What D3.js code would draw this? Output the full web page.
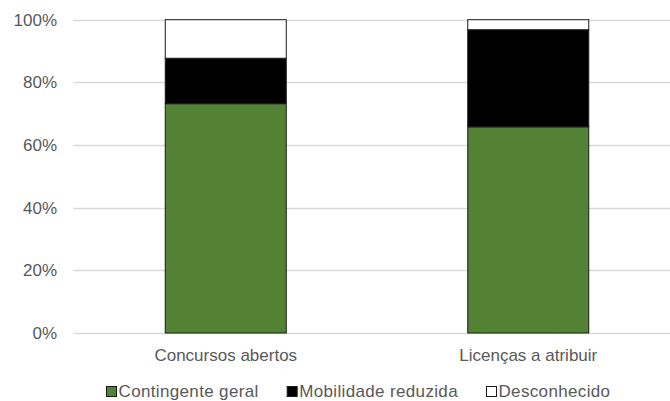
<!DOCTYPE html>
<html>
<head>
<meta charset="utf-8">
<script src="https://cdn.jsdelivr.net/npm/d3@7"></script>
<style>
  html, body { margin: 0; padding: 0; background: #fff; }
  svg { display: block; font-family: "Liberation Sans", Arial, sans-serif; }
</style>
</head>
<body>
<svg id="chart" width="670" height="401"></svg>
<script>
// Share of each group, per category (percent)
const categories = ["Concursos abertos", "Licenças a atribuir"];
const seriesNames = ["Contingente geral", "Mobilidade reduzida", "Desconhecido"];
const contingenteGeral = [73.2, 65.8];
const mobilidadeReduzida = [14.5, 31.0];
const desconhecido = [12.3, 3.2];
const yTicks = [0, 20, 40, 60, 80, 100];

const colors = ["#548235", "#000000", "#ffffff"];

const svg = d3.select("#chart");
const W = 670, H = 401;

const x = d3.scaleBand()
  .domain(categories)
  .range([74.5, 679.5])
  .paddingInner(0.6)
  .paddingOuter(0.3);

const y = d3.scaleLinear().domain([0, 100]).range([333, 19.7]);

// Gridlines
const gridG = svg.append("g");
gridG.selectAll("line")
  .data(yTicks)
  .join("line")
  .attr("x1", 73.5).attr("x2", W)
  .attr("y1", d => Math.round(y(d)) + 0.5)
  .attr("y2", d => Math.round(y(d)) + 0.5)
  .attr("stroke", "#d9d9d9")
  .attr("stroke-width", 1.3);

// Y axis labels
const yAxis = d3.axisLeft(y).tickValues(yTicks).tickFormat(d => d + "%").tickSize(0).tickPadding(0);
const yg = svg.append("g").attr("transform", "translate(57,0)").call(yAxis);
yg.select(".domain").remove();
yg.selectAll("text")
  .attr("fill", "#595959")
  .attr("font-size", 17)
  .attr("font-family", "Liberation Sans, Arial, sans-serif");

// Stacked bars
const rows = categories.map((c, i) => ({
  cat: c,
  [seriesNames[0]]: contingenteGeral[i],
  [seriesNames[1]]: mobilidadeReduzida[i],
  [seriesNames[2]]: desconhecido[i]
}));
const stack = d3.stack().keys(seriesNames)(rows);

const barsG = svg.append("g");
stack.forEach((layer, k) => {
  barsG.selectAll(null)
    .data(layer)
    .join("rect")
    .attr("x", d => x(d.data.cat))
    .attr("width", x.bandwidth())
    .attr("y", d => y(d[1]))
    .attr("height", d => y(d[0]) - y(d[1]))
    .attr("fill", colors[k])
    .attr("stroke", "#1a1a1a")
    .attr("stroke-width", 1);
});

// Category labels
const xAxis = d3.axisBottom(x).tickSize(0).tickPadding(0);
const xg = svg.append("g").attr("transform", "translate(0,361)").call(xAxis);
xg.select(".domain").remove();
xg.selectAll("text")
  .attr("dy", 0)
  .attr("fill", "#595959")
  .attr("font-size", 17)
  .attr("font-family", "Liberation Sans, Arial, sans-serif");

// Legend
const legend = svg.append("g");
let lx = 106;
seriesNames.forEach((name, k) => {
  legend.append("rect")
    .attr("x", lx + 0.5).attr("y", 386.5)
    .attr("width", 10).attr("height", 10)
    .attr("fill", colors[k])
    .attr("stroke", "#1a1a1a")
    .attr("stroke-width", 1);
  const t = legend.append("text")
    .attr("x", lx + 12.5).attr("y", 396.5)
    .attr("fill", "#595959")
    .attr("font-size", 17)
    .attr("letter-spacing", 0.35)
    .text(name);
  lx += 12.5 + t.node().getComputedTextLength() + 28;
});
</script>
</body>
</html>
